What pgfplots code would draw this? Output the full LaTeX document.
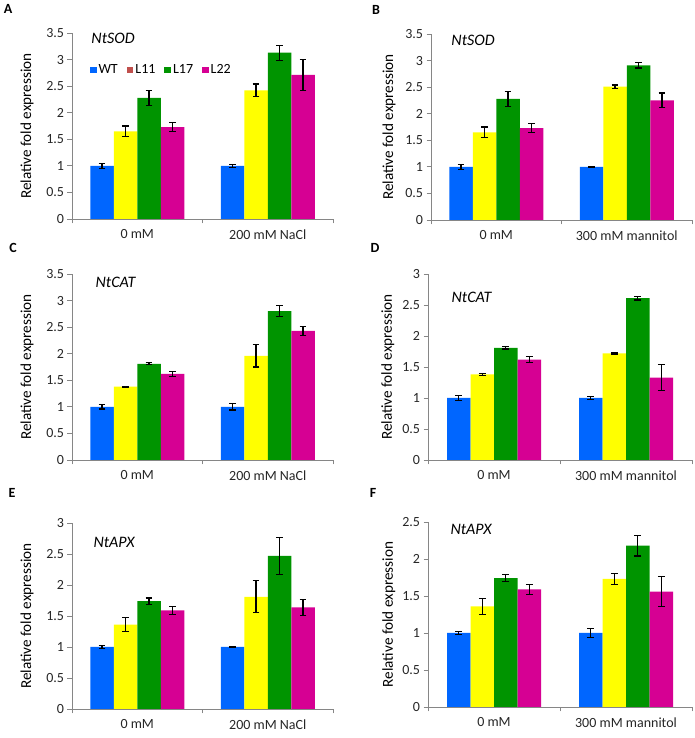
\documentclass[border=0pt]{standalone}
\usepackage{pgfplots}
\usepackage{pgfplotstable}
\pgfplotsset{compat=1.18}
\usepackage{fontspec}
\setmainfont{Carlito}

\definecolor{cwt}{RGB}{0,102,255}
\definecolor{cya}{RGB}{255,255,0}
\definecolor{cgr}{RGB}{0,148,0}
\definecolor{cmg}{RGB}{214,0,147}
\definecolor{cl11}{RGB}{192,80,77}
\definecolor{axisgray}{RGB}{134,134,134}

\newcommand{\fs}[1]{\fontsize{#1}{#1}\selectfont}

% x = group (0 mM, stress), then value and error for WT, L11, L17, L22
\pgfplotstableread{
x wt wte ya yae gr gre mg mge
0 1.00 0.05 1.65 0.10 2.28 0.14 1.73 0.08
1 1.00 0.03 2.42 0.12 3.13 0.14 2.71 0.29
}\dataA
\pgfplotstableread{
x wt wte ya yae gr gre mg mge
0 1.00 0.05 1.65 0.10 2.28 0.14 1.73 0.08
1 1.00 0.01 2.51 0.03 2.91 0.05 2.25 0.14
}\dataB
\pgfplotstableread{
x wt wte ya yae gr gre mg mge
0 1.00 0.04 1.38 0.01 1.81 0.02 1.62 0.05
1 1.00 0.06 1.96 0.21 2.80 0.10 2.43 0.09
}\dataC
\pgfplotstableread{
x wt wte ya yae gr gre mg mge
0 1.00 0.04 1.38 0.01 1.81 0.02 1.62 0.05
1 1.00 0.02 1.72 0.01 2.61 0.03 1.33 0.21
}\dataD
\pgfplotstableread{
x wt wte ya yae gr gre mg mge
0 1.00 0.02 1.36 0.11 1.74 0.05 1.59 0.07
1 1.00 0.01 1.81 0.26 2.47 0.30 1.64 0.13
}\dataE
\pgfplotstableread{
x wt wte ya yae gr gre mg mge
0 1.00 0.02 1.36 0.11 1.74 0.05 1.59 0.07
1 1.00 0.06 1.73 0.07 2.18 0.14 1.56 0.20
}\dataF

\newcommand{\bars}[1]{%
  \addplot[fill=cwt] table[x=x,y=wt,y error=wte]{#1};
  \addplot[fill=cya] table[x=x,y=ya,y error=yae]{#1};
  \addplot[fill=cgr] table[x=x,y=gr,y error=gre]{#1};
  \addplot[fill=cmg] table[x=x,y=mg,y error=mge]{#1};
}

\pgfplotsset{
  panel/.style={
    scale only axis,
    width=261bp, height=186bp,
    axis x line*=bottom, axis y line*=left,
    axis line style={draw=axisgray, line width=0.8bp},
    tick align=outside,
    tick style={draw=axisgray, line width=0.8bp},
    major tick length=4.5bp,
    xmin=-0.5, xmax=1.5, ymin=0, ytick distance=0.5,
    xtick={-0.5,0.5,1.5}, xticklabels={},
    extra x ticks={0,1},
    extra x tick style={major tick length=0pt, tick label style={yshift=-7bp}},
    ybar=0pt, bar width=23.5bp,
    every axis plot/.append style={draw=none},
    /pgf/number format/assume math mode=true,
    tick label style={font=\fs{14bp}, text=black!85},
    ylabel={Relative fold expression},
    ylabel style={font=\fs{15.2bp}, anchor=center},
    error bars/y dir=both, error bars/y explicit,
    error bars/error bar style={draw=black, line width=1.1bp},
    error bars/error mark options={rotate=90, mark size=3.4bp, draw=black, line width=1.1bp},
    clip=false,
  },
  sw/.style={legend image code/.code={\fill[#1] (0bp,-3.3bp) rectangle (6.6bp,3.3bp);}},
}

\begin{document}
\begin{tikzpicture}
\path[use as bounding box] (0bp,0bp) rectangle (695bp,738bp);

% A
\begin{axis}[panel, at={(72bp,519bp)}, anchor=south west, ymax=3.5,
  extra x tick labels={0 mM, 200 mM NaCl},
  ylabel style={at={(axis description cs:-0.172,0.5)}},
  legend entries={WT,L11,L17,L22},
  legend columns=4,
  legend style={at={(rel axis cs:0.068,0.80)}, anchor=west, draw=none, fill=none,
    font=\fs{14bp}, inner sep=0pt,
    /tikz/every even column/.append style={column sep=7bp}},
]
\addlegendimage{sw=cwt}
\addlegendimage{sw=cl11}
\addlegendimage{sw=cgr}
\addlegendimage{sw=cmg}
\bars{\dataA}
\node[anchor=west, font=\itshape\fs{16bp}] at (rel axis cs:0.061,0.973) {NtSOD};
\end{axis}

% B
\begin{axis}[panel, at={(431bp,518bp)}, anchor=south west, ymax=3.5,
  extra x tick labels={0 mM, 300 mM mannitol},
  ylabel style={at={(axis description cs:-0.161,0.5)}},
]
\bars{\dataB}
\node[anchor=west, font=\itshape\fs{16bp}] at (rel axis cs:0.065,0.968) {NtSOD};
\end{axis}

% C
\begin{axis}[panel, at={(72bp,278bp)}, anchor=south west, ymax=3.5,
  extra x tick labels={0 mM, 200 mM NaCl},
  ylabel style={at={(axis description cs:-0.172,0.5)}},
]
\bars{\dataC}
\node[anchor=west, font=\itshape\fs{16bp}] at (rel axis cs:0.077,0.957) {NtCAT};
\end{axis}

% D
\begin{axis}[panel, at={(428bp,278bp)}, anchor=south west, width=264bp, ymax=3,
  extra x tick labels={0 mM, 300 mM mannitol},
  ylabel style={at={(axis description cs:-0.152,0.5)}},
]
\bars{\dataD}
\node[anchor=west, font=\itshape\fs{16bp}] at (rel axis cs:0.076,0.876) {NtCAT};
\end{axis}

% E
\begin{axis}[panel, at={(72bp,29bp)}, anchor=south west, ymax=3,
  extra x tick labels={0 mM, 200 mM NaCl},
  ylabel style={at={(axis description cs:-0.172,0.5)}},
]
\bars{\dataE}
\node[anchor=west, font=\itshape\fs{16bp}] at (rel axis cs:0.069,0.898) {NtAPX};
\end{axis}

% F
\begin{axis}[panel, at={(428bp,31bp)}, anchor=south west, width=264bp, height=185bp, ymax=2.5,
  extra x tick labels={0 mM, 300 mM mannitol},
  ylabel style={at={(axis description cs:-0.148,0.5)}},
]
\bars{\dataF}
\node[anchor=west, font=\itshape\fs{16bp}] at (rel axis cs:0.072,0.962) {NtAPX};
\end{axis}

\begin{scope}[font=\bfseries\fs{14bp}]
\node at (8bp,729bp) {A};
\node at (376bp,728bp) {B};
\node at (13bp,490bp) {C};
\node at (375bp,490bp) {D};
\node at (12bp,245bp) {E};
\node at (373bp,245bp) {F};
\end{scope}
\end{tikzpicture}
\end{document}
